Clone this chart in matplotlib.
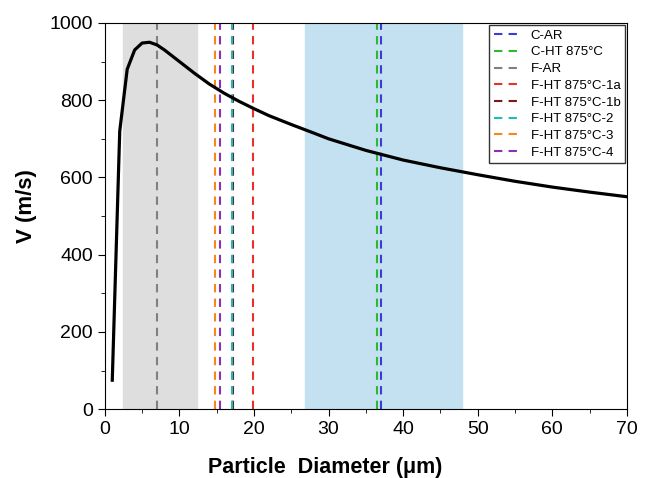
import matplotlib
matplotlib.use("Agg")
import matplotlib.pyplot as plt
from matplotlib.ticker import MultipleLocator

plt.rcParams['font.family'] = ['Liberation Sans', 'DejaVu Sans']

# particle velocity vs diameter
diameter = [1, 2, 3, 4, 5, 6, 7, 8, 9, 10, 12, 14, 16, 18, 20, 22, 25, 28,
            30, 35, 40, 45, 50, 55, 60, 65, 70]
velocity = [75, 720, 880, 930, 948, 950, 943, 930, 915, 900, 870, 842, 818,
            797, 778, 760, 737, 715, 700, 670, 645, 625, 607, 590, 575, 562, 550]

# shaded size ranges
fine_range = (2.4, 12.4)
coarse_range = (26.9, 47.9)

# mean particle diameters per powder
powders = ['C-AR', 'C-HT 875°C', 'F-AR', 'F-HT 875°C-1a', 'F-HT 875°C-1b',
           'F-HT 875°C-2', 'F-HT 875°C-3', 'F-HT 875°C-4']
mean_d = [37.0, 36.5, 7.05, 19.85, 17.25, 17.0, 14.8, 15.45]
colors = ['#3b3bd6', '#2db82d', '#808080', '#e8302c', '#7a1a1a',
          '#1bbcbc', '#f7861c', '#8b2fb5']

fig = plt.figure(figsize=(6.47, 4.78), dpi=100)
ax = fig.add_axes([0.162, 0.144, 0.807, 0.808])

ax.axvspan(*fine_range, color='#dedede', zorder=0)
ax.axvspan(*coarse_range, color='#c4e1f2', zorder=0)

for name, d, c in zip(powders, mean_d, colors):
    ax.axvline(d, color=c, linestyle=(0, (4, 3)), linewidth=1.5, label=name, zorder=1)

ax.plot(diameter, velocity, color='black', linewidth=2.3, zorder=3)

ax.set_xlim(0, 70)
ax.set_ylim(0, 1000)
ax.xaxis.set_major_locator(MultipleLocator(10))
ax.xaxis.set_minor_locator(MultipleLocator(5))
ax.yaxis.set_major_locator(MultipleLocator(200))
ax.yaxis.set_minor_locator(MultipleLocator(100))
ax.tick_params(which='major', direction='out', length=5, labelsize=14)
ax.tick_params(which='minor', direction='out', length=3)

ax.set_xlabel('Particle  Diameter (μm)', fontsize=15.5, fontweight='bold')
ax.xaxis.set_label_coords(0.423, -0.125)
ax.set_ylabel('V (m/s)', fontsize=16, fontweight='bold')
ax.yaxis.set_label_coords(-0.13, 0.525)

leg = ax.legend(loc='upper right', fontsize=9.5, frameon=True, fancybox=False,
                borderaxespad=0.15, handlelength=2.2, labelspacing=0.34,
                borderpad=0.35, handletextpad=0.6)
leg.get_frame().set_edgecolor('black')
leg.get_frame().set_linewidth(1.0)

fig.savefig('out.png', dpi=100)
